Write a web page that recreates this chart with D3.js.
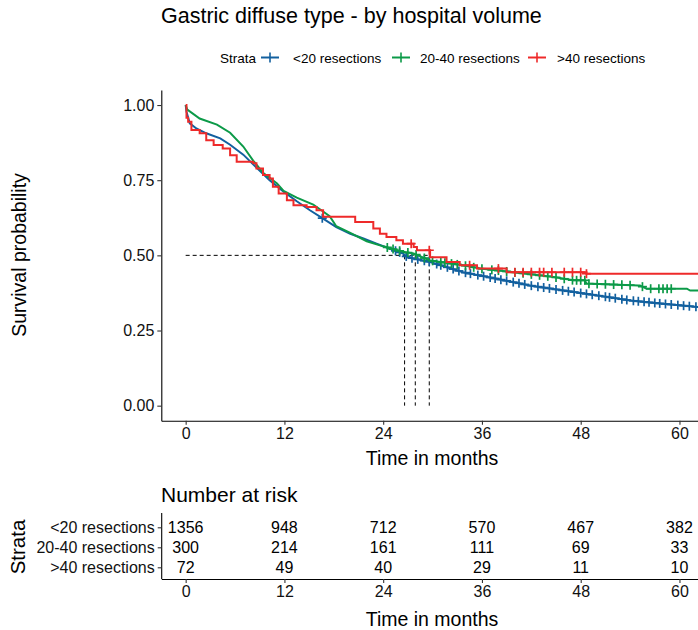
<!DOCTYPE html>
<html>
<head>
<meta charset="utf-8">
<script src="https://cdn.jsdelivr.net/npm/d3@7"></script>
<style>
  body { margin: 0; background: #fff; }
  svg text { font-family: "Liberation Sans", Arial, sans-serif; }
</style>
</head>
<body>
<div id="chart"></div>
<script>
// ---- data ----
const strata = ["<20 resections", "20-40 resections", ">40 resections"];
const colors = ["#12609F", "#0C9A48", "#EE2A2A"];

const blueTime = [0, 0.1, 0.5, 1.3, 2.5, 4.2, 5.4, 7.0, 8.6, 10.2, 11.9, 13.5, 15.1, 16.7, 18.3, 20.0, 21.6, 23.2, 24.8, 26.4, 26.9, 29.7, 33.7, 37.8, 39.8, 41.8, 45.9, 49.9, 54.0, 58.0, 62.3];
const blueSurv = [1.0, 0.978, 0.939, 0.922, 0.906, 0.889, 0.868, 0.835, 0.792, 0.750, 0.712, 0.680, 0.650, 0.622, 0.594, 0.572, 0.556, 0.539, 0.522, 0.506, 0.494, 0.478, 0.444, 0.422, 0.411, 0.400, 0.383, 0.367, 0.350, 0.339, 0.328];

const greenTime = [0, 0.2, 1.7, 3.8, 5.4, 7.0, 8.2, 9.4, 11.1, 11.9, 13.5, 15.5, 17.5, 18.3, 20.0, 22.0, 24.0, 26.4, 27.7, 29.7, 33.7, 35.8, 39.8, 44.7, 47.1, 48.5, 48.7, 55.0, 55.2, 56.0, 60.9, 61.3, 62.3];
const greenSurv = [1.0, 0.985, 0.955, 0.935, 0.908, 0.862, 0.815, 0.775, 0.739, 0.714, 0.692, 0.669, 0.630, 0.597, 0.575, 0.547, 0.530, 0.512, 0.506, 0.483, 0.467, 0.456, 0.444, 0.428, 0.417, 0.417, 0.406, 0.400, 0.400, 0.389, 0.389, 0.383, 0.383];

const redTime = [0, 0.1, 0.3, 0.7, 1.7, 2.5, 3.4, 4.5, 5.4, 6.2, 8.2, 8.6, 9.4, 10.2, 10.6, 11.3, 12.3, 13.1, 14.7, 15.9, 16.7, 20.6, 22.8, 23.6, 24.4, 25.6, 26.4, 27.7, 28.1, 29.7, 31.7, 33.3, 35.4, 39.0, 48.7, 62.3];
const redSurv = [1.0, 0.958, 0.944, 0.917, 0.906, 0.883, 0.867, 0.855, 0.833, 0.811, 0.806, 0.789, 0.767, 0.756, 0.728, 0.706, 0.683, 0.667, 0.661, 0.650, 0.628, 0.611, 0.589, 0.572, 0.561, 0.550, 0.539, 0.528, 0.517, 0.494, 0.478, 0.467, 0.456, 0.444, 0.439, 0.439];

// censoring times
const blueCensor = [16.6, 25.5, 26.0, 26.8, 27.5, 28.2, 29.0, 29.6, 30.5, 31.0, 31.8, 32.5, 33.2, 34.0, 34.6, 35.5, 36.2, 37.0, 37.6, 38.3, 39.0, 39.8, 40.5, 41.2, 42.0, 42.8, 43.5, 44.2, 45.0, 45.8, 46.5, 47.2, 48.0, 48.7, 49.4, 50.2, 51.0, 51.5, 52.2, 53.0, 53.6, 54.4, 55.0, 55.7, 56.3, 57.0, 57.6, 58.3, 59.0, 59.8, 60.5, 61.2, 62.0];
const greenCensor = [24.5, 25.2, 26.0, 27.0, 28.0, 29.0, 30.0, 31.0, 31.5, 32.3, 33.0, 34.0, 35.0, 36.0, 37.2, 38.0, 39.0, 40.0, 41.0, 42.0, 43.0, 44.0, 45.0, 46.0, 47.0, 47.5, 48.0, 48.5, 49.0, 50.0, 51.0, 52.0, 53.0, 54.0, 55.5, 56.5, 57.5, 58.0, 58.5, 59.0];
const redCensor = [27.4, 29.6, 34.5, 38.0, 40.0, 41.0, 42.0, 43.0, 43.5, 44.5, 46.0, 47.0, 48.0, 48.7];

const medians = [26.6, 27.9, 29.6];

const riskTimes = [0, 12, 24, 36, 48, 60];
const riskBlue = [1356, 948, 712, 570, 467, 382];
const riskGreen = [300, 214, 161, 111, 69, 33];
const riskRed = [72, 49, 40, 29, 11, 10];

const xTicks = [0, 12, 24, 36, 48, 60];
const yTicks = [0, 0.25, 0.5, 0.75, 1];

// ---- build ----
const W = 698, H = 630;
const svg = d3.select("#chart").append("svg")
    .attr("width", W).attr("height", H);

const curves = [
    {name: strata[0], color: colors[0], pts: blueTime.map((t, i) => ({t: t, s: blueSurv[i]})), censor: blueCensor, step: false},
    {name: strata[1], color: colors[1], pts: greenTime.map((t, i) => ({t: t, s: greenSurv[i]})), censor: greenCensor, step: false},
    {name: strata[2], color: colors[2], pts: redTime.map((t, i) => ({t: t, s: redSurv[i]})), censor: redCensor, step: true}
];

// scales
let x = d3.scaleLinear().domain([-2.96, 62.3]).range([161.3, 698.4]);
let y = d3.scaleLinear().domain([-0.05, 1.05]).range([420.7, 90]);

// title
svg.append("text")
    .attr("x", 161).attr("y", 23)
    .attr("font-size", 21.5)
    .text("Gastric diffuse type - by hospital volume");

// legend
let leg = svg.append("g").attr("transform", "translate(0,57.5)");
leg.append("text").attr("x", 220).attr("y", 5).attr("font-size", 13.5).text("Strata");
let legKeyX = [270, 401, 537];
let legTextX = [293, 420, 557];
curves.forEach((c, i) => {
    let g = leg.append("g").attr("transform", `translate(${legKeyX[i]},0)`);
    g.append("line").attr("x1", -9).attr("x2", 9).attr("stroke", c.color).attr("stroke-width", 2);
    g.append("line").attr("y1", -5).attr("y2", 5).attr("stroke", c.color).attr("stroke-width", 1.6);
    leg.append("text").attr("x", legTextX[i]).attr("y", 5).attr("font-size", 13.5).text(c.name);
});

// clip
svg.append("clipPath").attr("id", "clip")
    .append("rect").attr("x", 161.3).attr("y", 90).attr("width", 540).attr("height", 331);

// axes
let xAxis = d3.axisBottom(x).tickValues(xTicks).tickSize(4).tickSizeOuter(0).tickPadding(3);
let yAxis = d3.axisLeft(y).tickValues(yTicks).tickSize(4).tickSizeOuter(0).tickPadding(3)
    .tickFormat(d3.format(".2f"));

function styleAxis(g) {
    g.select(".domain").attr("stroke", "#000").attr("stroke-width", 1.1);
    g.selectAll(".tick line").attr("stroke", "#333").attr("stroke-width", 1.1);
    g.selectAll(".tick text").attr("fill", "#111").attr("font-size", 16)
        .attr("font-family", "Liberation Sans, Arial, sans-serif");
}

svg.append("g").attr("transform", "translate(0,420.7)").call(xAxis).call(styleAxis);
svg.append("g").attr("transform", "translate(161.3,0)").call(yAxis).call(styleAxis);

svg.append("text")
    .attr("x", 432).attr("y", 465)
    .attr("text-anchor", "middle").attr("font-size", 19.5)
    .text("Time in months");
svg.append("text")
    .attr("transform", "translate(26,255) rotate(-90)")
    .attr("text-anchor", "middle").attr("font-size", 19.5)
    .text("Survival probability");

// median lines
let plot = svg.append("g").attr("clip-path", "url(#clip)");
plot.append("line")
    .attr("x1", x(0)).attr("x2", x(d3.max(medians)))
    .attr("y1", y(0.5)).attr("y2", y(0.5))
    .attr("stroke", "#000").attr("stroke-width", 1).attr("stroke-dasharray", "4,3");
plot.selectAll(".med").data(medians).enter().append("line")
    .attr("class", "med")
    .attr("x1", d => x(d)).attr("x2", d => x(d))
    .attr("y1", y(0.5)).attr("y2", y(0))
    .attr("stroke", "#000").attr("stroke-width", 1).attr("stroke-dasharray", "4,3");

// survival at time t along the drawn curve
function survAt(c, t) {
    let p = c.pts;
    for (let i = 1; i < p.length; i++) {
        if (t < p[i].t) {
            if (c.step) return p[i - 1].s;
            let f = (t - p[i - 1].t) / (p[i].t - p[i - 1].t);
            return p[i - 1].s + f * (p[i].s - p[i - 1].s);
        }
    }
    return p[p.length - 1].s;
}

curves.forEach(c => {
    let line = d3.line()
        .x(d => x(d.t)).y(d => y(d.s))
        .curve(c.step ? d3.curveStepAfter : d3.curveLinear);
    plot.append("path")
        .datum(c.pts)
        .attr("d", line)
        .attr("fill", "none")
        .attr("stroke", c.color)
        .attr("stroke-width", 2);

    let marks = plot.selectAll(null).data(c.censor).enter().append("g")
        .attr("transform", d => `translate(${x(d)},${y(survAt(c, d))})`);
    marks.append("line").attr("x1", -4.5).attr("x2", 4.5).attr("stroke", c.color).attr("stroke-width", 1.7);
    marks.append("line").attr("y1", -4.5).attr("y2", 4.5).attr("stroke", c.color).attr("stroke-width", 1.7);
});

// ---- number at risk table ----
svg.append("text")
    .attr("x", 161).attr("y", 502)
    .attr("font-size", 21)
    .text("Number at risk");

let yr = d3.scalePoint().domain(strata).range([527.3, 567.3]);
let xr = x.copy();

let rAxisY = d3.axisLeft(yr).tickSize(4).tickSizeOuter(0).tickPadding(3);
let rAxisX = d3.axisBottom(xr).tickValues(xTicks).tickSize(4).tickSizeOuter(0).tickPadding(3);

let ry = svg.append("g").attr("transform", "translate(161.7,0)").call(rAxisY).call(styleAxis);
ry.select(".domain").attr("d", "M0,513V579");

svg.append("g").attr("transform", "translate(0,579)").call(rAxisX).call(styleAxis);

const riskRows = [riskBlue, riskGreen, riskRed];
riskRows.forEach((row, i) => {
    svg.selectAll(null).data(row).enter().append("text")
        .attr("x", (d, j) => xr(riskTimes[j]))
        .attr("y", yr(strata[i]) + 5.5)
        .attr("text-anchor", "middle")
        .attr("font-size", 16)
        .attr("fill", "#000")
        .text(d => d);
});

svg.append("text")
    .attr("x", 432).attr("y", 626)
    .attr("text-anchor", "middle").attr("font-size", 19.5)
    .text("Time in months");
svg.append("text")
    .attr("transform", "translate(25,547) rotate(-90)")
    .attr("text-anchor", "middle").attr("font-size", 20.5)
    .text("Strata");
</script>
</body>
</html>
